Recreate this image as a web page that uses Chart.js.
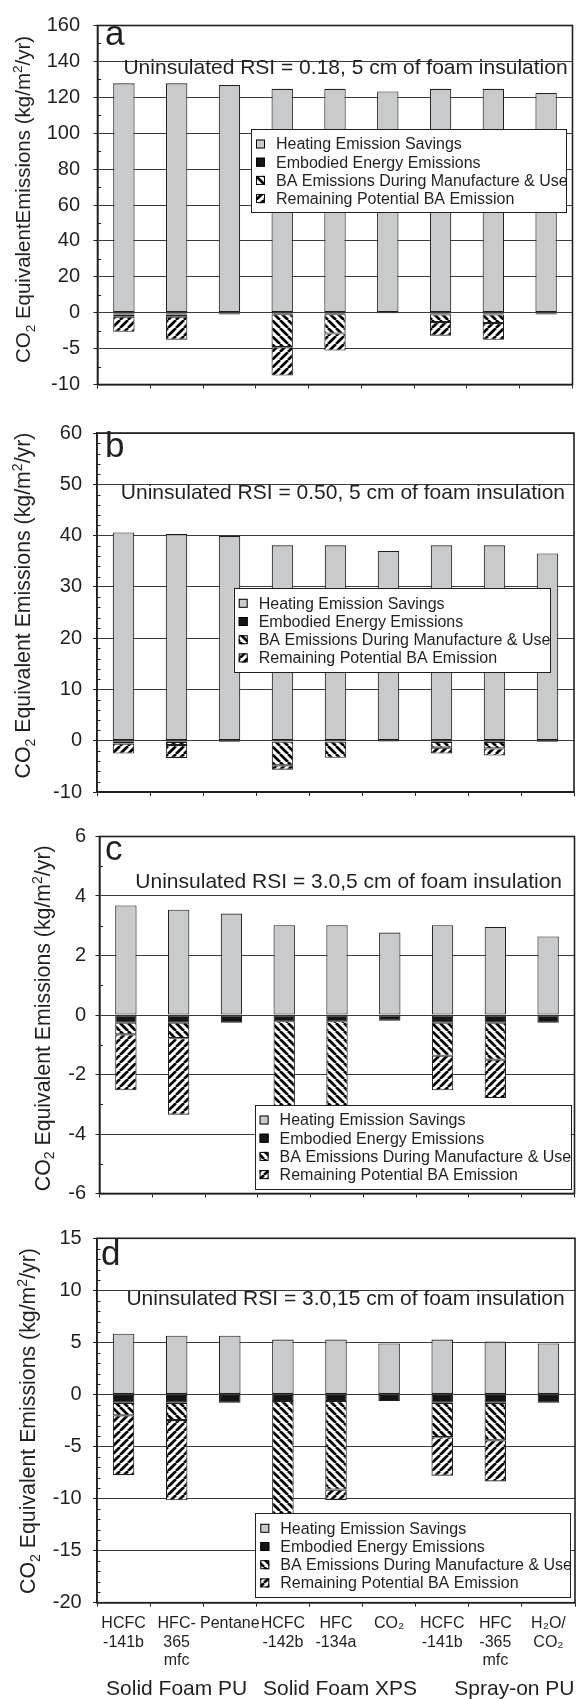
<!DOCTYPE html>
<html>
<head>
<meta charset="utf-8">
<script src="https://cdn.jsdelivr.net/npm/chart.js@4.4.1/dist/chart.umd.min.js"></script>
<style>
  html, body { margin: 0; padding: 0; background: #fff; }
  #page { position: relative; width: 576px; height: 1699px; overflow: hidden; background: #fff; }
  #page canvas { position: absolute; left: 0; }
</style>
</head>
<body>
<div id="page">
  <canvas id="panelA" width="576" height="410" style="top:0px"></canvas>
  <canvas id="panelB" width="576" height="405" style="top:410px"></canvas>
  <canvas id="panelC" width="576" height="400" style="top:815px"></canvas>
  <canvas id="panelD" width="576" height="484" style="top:1215px"></canvas>
</div>
<script>
// ---- categories and series ----
const categoryLabels = [
  ['HCFC', '-141b'], ['HFC-', '365', 'mfc'], ['Pentane'],
  ['HCFC', '-142b'], ['HFC', '-134a'], ['CO\u2082'],
  ['HCFC', '-141b'], ['HFC', '-365', 'mfc'], ['H\u2082O/', 'CO\u2082']
];
const groupNames = ['Solid Foam PU', 'Solid Foam XPS', 'Spray-on PU'];
const seriesNames = [
  'Heating Emission Savings',
  'Embodied Energy Emissions',
  'BA Emissions During Manufacture & Use',
  'Remaining Potential BA Emission'
];

// (a) uninsulated RSI 0.18, 5 cm foam
const heatingA   = [127.8, 127.8, 126.8, 124.7, 124.7, 123.3, 124.7, 124.7, 122.4];
const embodiedA  = [-0.25, -0.25, -0.25, -0.2, -0.2, -0.1, -0.25, -0.25, -0.25];
const baUseA     = [-0.3, -0.3, 0, -4.6, -2.7, 0, -1.05, -1.2, 0];
const baRemainA  = [-2.1, -3.2, 0, -3.95, -2.38, 0, -1.9, -2.33, 0];

// (b) uninsulated RSI 0.50, 5 cm foam
const heatingB   = [40.6, 40.3, 39.9, 38.1, 38.1, 37.0, 38.1, 38.1, 36.5];
const embodiedB  = [-0.25, -0.25, -0.25, -0.2, -0.2, -0.2, -0.25, -0.25, -0.25];
const baUseB     = [-0.3, -0.6, 0, -4.6, -3.13, 0, -1.1, -1.25, 0];
const baRemainB  = [-1.95, -2.5, 0, -0.85, 0, 0, -1.15, -1.4, 0];

// (c) uninsulated RSI 3.0, 5 cm foam
const heatingC   = [3.68, 3.54, 3.41, 3.02, 3.02, 2.77, 3.02, 2.96, 2.64];
const embodiedC  = [-0.26, -0.26, -0.26, -0.21, -0.21, -0.19, -0.26, -0.26, -0.26];
const baUseC     = [-0.39, -0.52, 0, -4.6, -3.1, 0, -1.11, -1.24, 0];
const baRemainC  = [-1.88, -2.57, 0, -0.85, 0, 0, -1.16, -1.29, 0];

// (d) uninsulated RSI 3.0, 15 cm foam
const heatingD   = [5.84, 5.65, 5.65, 5.27, 5.27, 4.9, 5.27, 5.08, 4.9];
const embodiedD  = [-0.8, -0.8, -0.8, -0.63, -0.63, -0.63, -0.8, -0.8, -0.8];
const baUseD     = [-1.2, -1.66, 0, -13.8, -8.5, 0, -3.3, -3.6, 0];
const baRemainD  = [-5.75, -7.7, 0, -2.6, -1.0, 0, -3.7, -3.95, 0];

// y tick labels
const ticksA = [160, 140, 120, 100, 80, 60, 40, 20, 0, -5, -10];
const ticksB = [60, 50, 40, 30, 20, 10, 0, -10];
const ticksC = [6, 4, 2, 0, -2, -4, -6];
const ticksD = [15, 10, 5, 0, -5, -10, -15, -20];

// ---- styling ----
const FONT = '"Liberation Sans", Arial, Helvetica, sans-serif';
const INK = '#231f20';
const GRID = '#3c3c3c';
const GREY = '#c9cacc';

Chart.defaults.font.family = FONT;
Chart.defaults.color = INK;

function hatch(dir) {
  const s = 8;
  const c = document.createElement('canvas');
  c.width = s; c.height = s;
  const g = c.getContext('2d');
  g.fillStyle = '#fff';
  g.fillRect(0, 0, s, s);
  g.strokeStyle = '#000';
  g.lineWidth = 2.7;
  g.beginPath();
  for (let k = -1; k <= 1; k++) {
    const x0 = k * s;
    if (dir === 'back') { g.moveTo(x0, 0); g.lineTo(x0 + s, s); }
    else { g.moveTo(x0, s); g.lineTo(x0 + s, 0); }
  }
  g.stroke();
  return g.createPattern(c, 'repeat');
}
const fills = [GREY, '#151515', hatch('back'), hatch('fwd')];

// Linear axis whose positive side can be compressed by a factor (broken-scale look)
class SplitLinearScale extends Chart.LinearScale {
  static id = 'splitLinear';
  static defaults = {};
  buildTicks() {
    return (this.options.tickValues || []).slice().sort((p, q) => p - q).map(v => ({ value: v }));
  }
  warp(v) { const r = this.options.upperRatio || 1; return v > 0 ? v / r : v; }
  unwarp(u) { const r = this.options.upperRatio || 1; return u > 0 ? u * r : u; }
  configure() {
    super.configure();
    this._wStart = this.warp(this.min);
    this._wRange = this.warp(this.max) - this._wStart;
  }
  getPixelForValue(v) {
    if (v === null || v === undefined || isNaN(v)) return NaN;
    return this.getPixelForDecimal((this.warp(v) - this._wStart) / this._wRange);
  }
  getValueForPixel(p) {
    return this.unwarp(this._wStart + this.getDecimalForPixel(p) * this._wRange);
  }
}
Chart.register(SplitLinearScale);

function minorValues(min, max, step, majors) {
  const out = [];
  for (let v = min; v <= max + 1e-9; v += step) {
    const r = Math.round(v * 1000) / 1000;
    if (!majors.includes(r)) out.push(r);
  }
  return out;
}

function drawRich(ctx, segs, size) {
  // segments: {t, sub, sup}; baseline at y=0, starting x=0 (already translated)
  let x = 0;
  segs.forEach(s => {
    const fs = (s.sub || s.sup) ? size * 0.66 : size;
    ctx.font = fs + 'px ' + FONT;
    const dy = s.sub ? size * 0.22 : (s.sup ? -size * 0.38 : 0);
    ctx.fillText(s.t, x, dy);
    x += ctx.measureText(s.t).width;
  });
  return x;
}
function richWidth(ctx, segs, size) {
  let w = 0;
  segs.forEach(s => {
    const fs = (s.sub || s.sup) ? size * 0.66 : size;
    ctx.font = fs + 'px ' + FONT;
    w += ctx.measureText(s.t).width;
  });
  return w;
}

const decor = {
  id: 'panelDecor',
  afterDatasetsDraw(chart, args, o) {
    const ctx = chart.ctx, a = chart.chartArea, ys = chart.scales.y;
    ctx.save();
    // minor ticks on the inside of the left axis
    ctx.strokeStyle = INK; ctx.lineWidth = 1;
    ctx.beginPath();
    o.minor.forEach(v => {
      const py = Math.round(ys.getPixelForValue(v)) + 0.5;
      ctx.moveTo(a.left, py); ctx.lineTo(a.left + 3.5, py);
    });
    ctx.stroke();
    // plot frame
    ctx.lineWidth = 1.6;
    ctx.strokeRect(a.left, a.top, a.right - a.left, a.bottom - a.top);
    // panel letter
    ctx.fillStyle = INK;
    ctx.textAlign = 'left'; ctx.textBaseline = 'alphabetic';
    ctx.font = '35px ' + FONT;
    ctx.fillText(o.letter, o.letterX, o.letterY - o.top);
    // condition text
    ctx.font = '21px ' + FONT;
    ctx.textAlign = 'right';
    ctx.fillText(o.subtitle, o.subRight, o.subY - o.top + 21 * 0.36);
    // legend
    const L = o.legend, lx = L.x, ly = L.y - o.top;
    ctx.fillStyle = '#fff';
    ctx.fillRect(lx, ly, L.w, L.h);
    ctx.strokeStyle = INK; ctx.lineWidth = 1;
    ctx.strokeRect(Math.round(lx) + 0.5, Math.round(ly) + 0.5, Math.round(L.w), Math.round(L.h));
    ctx.font = '16px ' + FONT;
    ctx.textAlign = 'left'; ctx.textBaseline = 'middle';
    chart.data.datasets.forEach((ds, i) => {
      const ry = ly + 15 + i * 18.2;
      ctx.fillStyle = ds.backgroundColor;
      ctx.fillRect(lx + 5, ry - 4.5, 9, 9);
      ctx.strokeStyle = '#000';
      ctx.strokeRect(lx + 5.5, ry - 4, 8, 8);
      ctx.fillStyle = INK;
      ctx.fillText(ds.label, lx + 25, ry + 1);
    });
    ctx.restore();
  },
  afterDraw(chart, args, o) {
    const ctx = chart.ctx;
    ctx.save();
    ctx.fillStyle = INK;
    ctx.textAlign = 'left'; ctx.textBaseline = 'alphabetic';
    // rotated axis title with sub/superscripts
    const size = o.titleSize;
    const w = richWidth(ctx, o.title, size);
    ctx.translate(o.titleX, o.titleY - o.top);
    ctx.rotate(-Math.PI / 2);
    ctx.translate(-w / 2, size * 0.36);
    drawRich(ctx, o.title, size);
    ctx.restore();
    // material group names under the category labels
    if (o.showCategories) {
      const xs = chart.scales.x, a = chart.chartArea;
      ctx.save();
      ctx.fillStyle = INK;
      ctx.font = '21px ' + FONT;
      ctx.textBaseline = 'alphabetic';
      const by = o.groupY - o.top + 21 * 0.36;
      ctx.textAlign = 'center';
      ctx.fillText(groupNames[0], xs.getPixelForValue(1), by);
      ctx.fillText(groupNames[1], xs.getPixelForValue(4) + 4, by);
      ctx.textAlign = 'right';
      ctx.fillText(groupNames[2], a.right - 0.5, by);
      ctx.restore();
    }
  }
};

const titleSpaced = [{ t: 'CO' }, { t: '2', sub: true }, { t: ' Equivalent Emissions (kg/m' }, { t: '2', sup: true }, { t: '/yr)' }];
const titleJoined = [{ t: 'CO' }, { t: '2', sub: true }, { t: ' EquivalentEmissions (kg/m' }, { t: '2', sup: true }, { t: '/yr)' }];

const panels = [
  {
    canvas: 'panelA', top: 0, height: 410,
    area: { left: 97.5, right: 572.5, top: 17.3, bottom: 389.3 },
    min: -10, max: 160, upperRatio: 4, ticks: ticksA,
    minor: minorValues(0, 160, 10, ticksA).concat(minorValues(-10, 0, 2.5, ticksA)),
    series: [heatingA, embodiedA, baUseA, baRemainA], tickPad: 13.5,
    letter: 'a', letterX: 105, letterY: 45,
    subtitle: 'Uninsulated RSI = 0.18, 5 cm of foam insulation', subRight: 567.6, subY: 66.7,
    title: titleJoined, titleSize: 20.5, titleX: 22.7, titleY: 199.5,
    legend: { x: 251, y: 129, w: 315, h: 83 }
  },
  {
    canvas: 'panelB', top: 410, height: 405,
    area: { left: 97, right: 574, top: 425, bottom: 795 },
    min: -10, max: 60, upperRatio: 1, ticks: ticksB,
    minor: minorValues(-10, 60, 2, ticksB),
    series: [heatingB, embodiedB, baUseB, baRemainB], tickPad: 11,
    letter: 'b', letterX: 105, letterY: 456.7,
    subtitle: 'Uninsulated RSI = 0.50, 5 cm of foam insulation', subRight: 565, subY: 491,
    title: titleSpaced, titleSize: 21.3, titleX: 22.7, titleY: 605.5,
    legend: { x: 233.7, y: 588.3, w: 316.3, h: 84 }
  },
  {
    canvas: 'panelC', top: 815, height: 400,
    area: { left: 99.5, right: 574.5, top: 832, bottom: 1194.3 },
    min: -6, max: 6, upperRatio: 1, ticks: ticksC,
    minor: minorValues(-6, 6, 1, ticksC),
    series: [heatingC, embodiedC, baUseC, baRemainC], tickPad: 9.5,
    letter: 'c', letterX: 105, letterY: 860,
    subtitle: 'Uninsulated RSI = 3.0,5 cm of foam insulation', subRight: 562, subY: 880,
    title: titleSpaced, titleSize: 21.3, titleX: 42, titleY: 1018.3,
    legend: { x: 254.6, y: 1105, w: 316, h: 84 }
  },
  {
    canvas: 'panelD', top: 1215, height: 484,
    area: { left: 97, right: 575, top: 1231.5, bottom: 1602.7 },
    min: -20, max: 15, upperRatio: 1, ticks: ticksD,
    minor: minorValues(-20, 15, 1, ticksD),
    series: [heatingD, embodiedD, baUseD, baRemainD], tickPad: 11.3,
    letter: 'd', letterX: 101, letterY: 1265,
    subtitle: 'Uninsulated RSI = 3.0,15 cm of foam insulation', subRight: 564.7, subY: 1297.3,
    title: titleSpaced, titleSize: 21.3, titleX: 27.5, titleY: 1421,
    legend: { x: 255.3, y: 1513.3, w: 314.7, h: 84 },
    showCategories: true, groupY: 1687.7
  }
];

panels.forEach(p => {
  const areaTop = p.area.top - p.top;
  const areaBottom = p.area.bottom - p.top;
  const xHeight = p.height - areaBottom;
  new Chart(document.getElementById(p.canvas), {
    type: 'bar',
    data: {
      labels: categoryLabels,
      datasets: p.series.map((vals, i) => ({
        label: seriesNames[i],
        data: vals,
        backgroundColor: fills[i],
        borderColor: '#1e1e1e',
        borderWidth: 1.1,
        borderSkipped: false,
        barPercentage: 0.405,
        categoryPercentage: 1,
        stack: 'total'
      }))
    },
    options: {
      responsive: false,
      animation: false,
      devicePixelRatio: 1,
      layout: { padding: { top: areaTop, right: 576 - p.area.right, bottom: 0, left: 0 } },
      plugins: {
        legend: { display: false },
        tooltip: { enabled: false },
        panelDecor: Object.assign({}, p, { series: undefined })
      },
      scales: {
        x: {
          type: 'category',
          stacked: true,
          offset: true,
          grid: { offset: true, drawOnChartArea: false, drawTicks: true, tickLength: 4, color: INK, lineWidth: 1 },
          border: { display: true, color: INK, width: 1.6 },
          ticks: {
            display: !!p.showCategories,
            autoSkip: false, maxRotation: 0, minRotation: 0,
            padding: 8,
            color: INK,
            font: { size: 16, lineHeight: 1.15 }
          },
          afterFit(s) { s.height = xHeight; }
        },
        y: {
          type: 'splitLinear',
          stacked: true,
          min: p.min, max: p.max,
          tickValues: p.ticks,
          upperRatio: p.upperRatio,
          grid: { color: GRID, lineWidth: 1, drawTicks: true, tickLength: 4, tickColor: INK },
          border: { display: true, color: INK, width: 1.6 },
          ticks: {
            padding: p.tickPad,
            color: INK,
            font: { size: 20 },
            callback: v => String(v)
          },
          afterFit(s) { s.width = p.area.left; }
        }
      }
    },
    plugins: [decor]
  });
});
</script>
</body>
</html>
